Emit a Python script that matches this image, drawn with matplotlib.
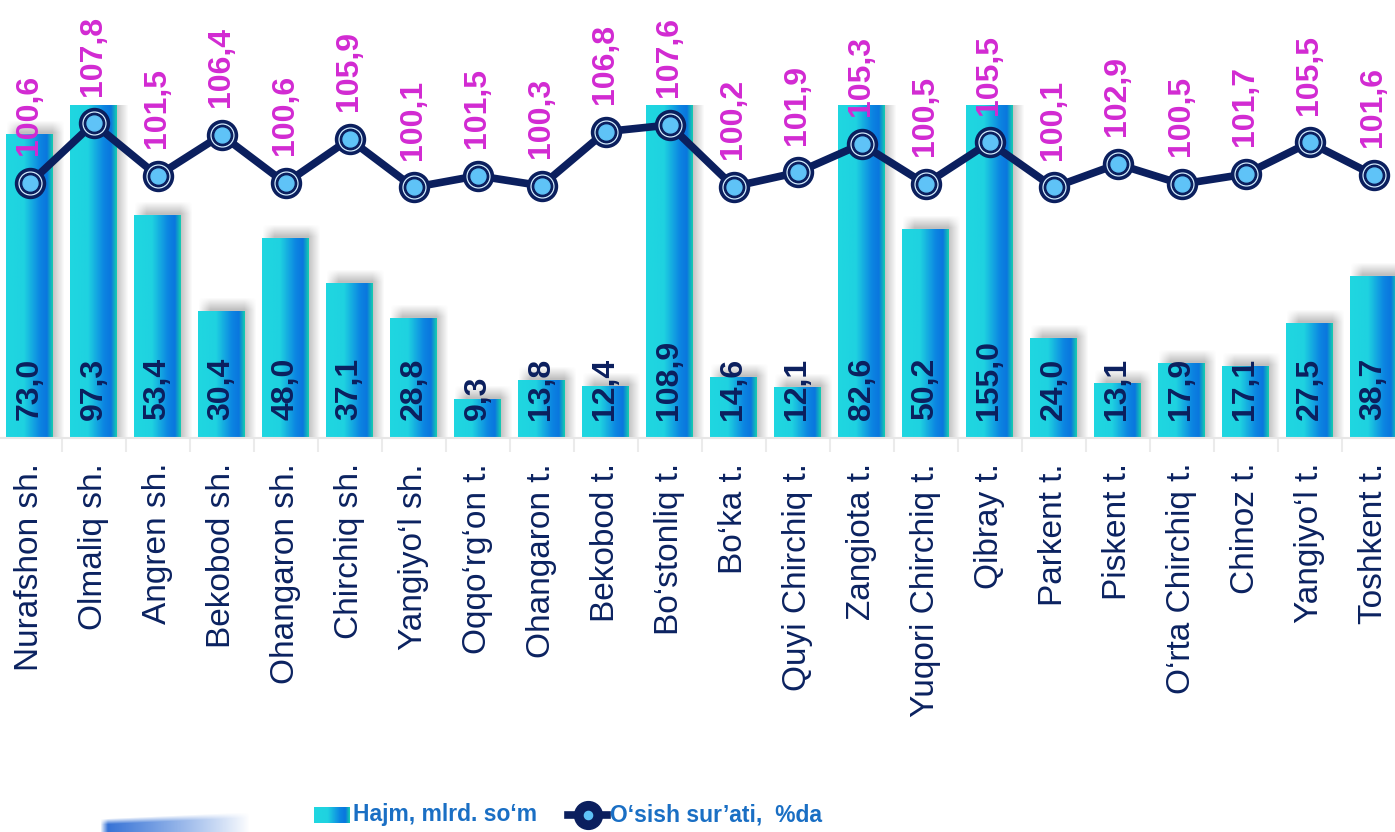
import numpy as np
import matplotlib.pyplot as plt
from matplotlib import font_manager
from matplotlib.colors import LinearSegmentedColormap, to_rgb

plt.rcParams['font.family'] = ['Liberation Sans', 'DejaVu Sans']

# Ma'lumotlar
cats = ["Nurafshon sh.", "Olmaliq sh.", "Angren sh.", "Bekobod sh.", "Ohangaron sh.",
        "Chirchiq sh.", "Yangiyo‘l sh.", "Oqqo‘rg‘on t.", "Ohangaron t.", "Bekobod t.",
        "Bo‘stonliq t.", "Bo‘ka t.", "Quyi Chirchiq t.", "Zangiota t.", "Yuqori Chirchiq t.",
        "Qibray t.", "Parkent t.", "Piskent t.", "O‘rta Chirchiq t.", "Chinoz t.",
        "Yangiyo‘l t.", "Toshkent t."]
volume = [73.0, 97.3, 53.4, 30.4, 48.0, 37.1, 28.8, 9.3, 13.8, 12.4, 108.9,
          14.6, 12.1, 82.6, 50.2, 155.0, 24.0, 13.1, 17.9, 17.1, 27.5, 38.7]
growth = [100.6, 107.8, 101.5, 106.4, 100.6, 105.9, 100.1, 101.5, 100.3, 106.8, 107.6,
          100.2, 101.9, 105.3, 100.5, 105.5, 100.1, 102.9, 100.5, 101.7, 105.5, 101.6]
name_bar = "Hajm, mlrd. so‘m"
name_line = "O‘sish sur’ati,  %da"

navy = '#0b1f5e'
magenta = '#d22ad2'

def fmt(v):
    return f"{v:.1f}".replace('.', ',')

W, H = 1395, 832
fig = plt.figure(figsize=(W / 100, H / 100), dpi=100)

# axes in pixel terms: category step 64 px, baseline at y=438, top at y=105
step = 64
x0 = 29.5 - step / 2
ax = fig.add_axes([x0 / W, (H - 438) / H, 22 * step / W, 333 / H])
ymax = 80
ax.set_xlim(-0.5, 21.5)
ax.set_ylim(0, ymax)
px_y = 333 / ymax  # pixels per unit

# bar gradient
stops = [(0.0, '#1fd7e1'), (0.38, '#1fd2e0'), (0.72, '#0c86e2'),
         (0.88, '#0a76de'), (1.0, '#14cbb2')]
cmap = LinearSegmentedColormap.from_list('bar', stops)
grad = cmap(np.linspace(0, 1, 64))[None, :, :]

bw = 0.72
for i, v in enumerate(volume):
    top = min(v, ymax)
    # soft shadow offset to upper right
    dx, dy, b = 6, 8, 6
    wpx = int(bw * step) + 2 * b
    hpx = int(top * px_y) + dy + b
    xx = np.arange(wpx)
    yy = np.arange(hpx)
    axx = np.clip(np.minimum(xx, wpx - 1 - xx) / (2 * b), 0, 1)
    ayy = np.clip((hpx - 1 - yy) / (2 * b), 0, 1)
    alpha = 0.45 * np.outer(ayy, axx)
    sh = np.zeros((hpx, wpx, 4))
    sh[..., :3] = 0.45
    sh[..., 3] = alpha
    ax.imshow(sh, extent=[i - bw / 2 + (dx - b) / step, i + bw / 2 + (dx + b) / step,
                          0, top + (dy + b) / px_y],
              origin='lower', aspect='auto', zorder=1, interpolation='bilinear')
    ax.imshow(grad, extent=[i - bw / 2, i + bw / 2, 0, top], origin='lower',
              aspect='auto', zorder=2, interpolation='bilinear')
    ax.annotate(fmt(v), (i, 0), xytext=(0, 13), textcoords='offset points',
                rotation=90, ha='center', va='bottom', fontsize=23,
                fontweight='bold', color=navy, zorder=4)

ax.set_xlim(-0.5, 21.5)
ax.set_ylim(0, ymax)
ax.set_xticks(range(len(cats)))
ax.set_xticklabels(cats, rotation=90, fontsize=24, color='#0b2260')
ax.set_xticks(np.arange(-0.5, 22, 1), minor=True)
ax.tick_params(axis='x', which='major', length=0, pad=18)
ax.tick_params(axis='x', which='minor', length=10, width=1.5, color='#ebebeb')
ax.set_yticks([])
for s in ['top', 'left', 'right']:
    ax.spines[s].set_visible(False)
ax.spines['bottom'].set_color('#e6e6e6')
ax.spines['bottom'].set_linewidth(1.5)
ax.patch.set_alpha(0)

# growth line on secondary axis
ax2 = ax.twinx()
ax2.set_ylim(70, 110)
ax2.set_yticks([])
for s in ax2.spines.values():
    s.set_visible(False)
xs = np.arange(len(growth))
ax2.plot(xs, growth, color=navy, lw=5.5, zorder=5, solid_capstyle='round')
ax2.scatter(xs, growth, s=467, color=navy, zorder=6)
ax2.scatter(xs, growth, s=270, color='#d6efff', zorder=7)
ax2.scatter(xs, growth, s=215, color=navy, zorder=8)
ax2.scatter(xs, growth, s=115, color='#5fc3f7', zorder=9)
for i, v in enumerate(growth):
    ax2.annotate(fmt(v), (i, v), xytext=(0, 20), textcoords='offset points',
                 rotation=90, ha='center', va='bottom', fontsize=23,
                 fontweight='bold', color=magenta, zorder=10)

# legend and decoration in pixel coordinates
lax = fig.add_axes([0, 0, 1, 1])
lax.set_xlim(0, W)
lax.set_ylim(H, 0)
lax.axis('off')
lax.patch.set_alpha(0)

names = {f.name for f in font_manager.fontManager.ttflist}
if 'Liberation Sans Narrow' in names:
    lfam, lsize = ['Liberation Sans Narrow', 'DejaVu Sans'], 19
else:
    lfam, lsize = ['Liberation Sans', 'DejaVu Sans'], 16.5

lax.imshow(grad, extent=(314, 350, 823, 807), aspect='auto', interpolation='bilinear')
lax.text(353, 815, name_bar, fontsize=lsize, family=lfam, fontweight='bold',
         color='#1a6fc4', va='center', ha='left')
lax.plot([568, 607], [815, 815], color=navy, lw=5.5)
lax.scatter([588], [815], s=400, color=navy, zorder=3)
lax.scatter([588], [815], s=35, color='#5fc3f7', zorder=4)
lax.text(610, 815, name_line, fontsize=lsize, family=lfam, fontweight='bold',
         color='#1a6fc4', va='center', ha='left')

# blurred blue shape bottom left
bx = np.linspace(0, 1, 150)
by = np.linspace(0, 1, 24)
gx, gy = np.meshgrid(bx, by)
edge = 0.45 - 0.3 * gx
blob_a = (np.clip((gy - edge) / 0.25, 0, 1) * np.clip(1 - gx, 0, 1) ** 0.9
          * np.clip(gx / 0.05, 0, 1))
blob = np.zeros((24, 150, 4))
blob[..., :3] = to_rgb('#2d6cd4')
blob[..., 3] = blob_a
lax.imshow(blob, extent=(100, 250, 832, 808), aspect='auto', interpolation='bilinear')
lax.set_xlim(0, W)
lax.set_ylim(H, 0)

fig.savefig('out.png', dpi=100)
